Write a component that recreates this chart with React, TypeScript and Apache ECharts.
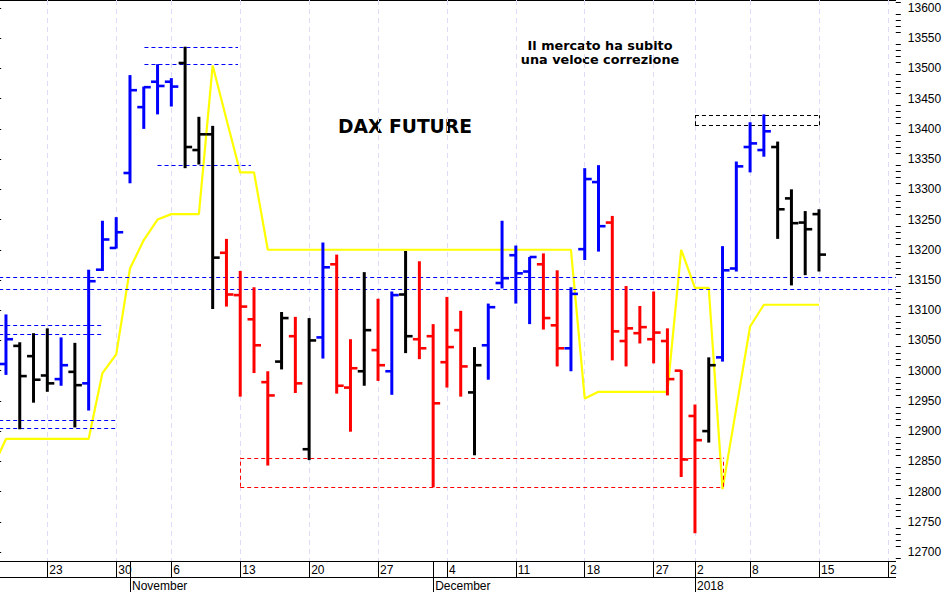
import React, { useEffect, useRef } from "react";
import * as echarts from "echarts";

const dates = [
  "10-17","10-18","10-19","10-20","10-23","10-24","10-25","10-26","10-27","10-30",
  "11-01","11-02","11-03","11-06","11-07","11-08","11-09","11-10","11-13","11-14",
  "11-15","11-16","11-17","11-20","11-21","11-22","11-23","11-24","11-27","11-28",
  "11-29","11-30","12-01","12-04","12-05","12-06","12-07","12-08","12-11","12-12",
  "12-13","12-14","12-15","12-18","12-19","12-20","12-21","12-22","12-27","12-28",
  "12-29","01-02","01-03","01-04","01-05","01-08","01-09","01-10","01-11","01-12",
  "01-15","01-16","01-17","01-18","01-19","01-22",
];
const dayTicks: Record<string, string> = {
  "10-23": "23", "10-30": "30", "11-06": "6", "11-13": "13", "11-20": "20", "11-27": "27", "12-04": "4",
  "12-11": "11", "12-18": "18", "12-27": "27", "01-02": "2", "01-08": "8", "01-15": "15", "01-22": "2",
};
const monthTicks: Record<string, string> = { "11-01": "November", "12-01": "December", "01-02": "2018" };

const opens = [null,
  13011,13041,13024,12992,12986,12998,12979,13167,13203,13327,13436,13478,13478,13509,13365,13391,13195,13125,13085,12981,
  13015,13057,12870,13055,13176,12972,12999,13034,12999,13126,13052,13057,13014,13067,12964,13042,13145,13191,13164,13176,
  13075,13037,13201,13312,13245,13049,13062,13052,13049,13000,12925,12900,13022,13169,13370,13365,13370,13285,13245,13259,
  null,null,null,null,null];
const highs = [null,
  13093,13047,13062,13070,13055,13046,13167,13248,13254,13489,13470,13507,13484,13536,13420,13405,13218,13165,13138,12999,
  13097,13089,13087,13212,13192,13052,13163,13119,13131,13198,13181,13077,13122,13099,13039,13111,13248,13207,13188,13194,
  13166,13138,13335,13340,13256,13140,13107,13131,13070,13001,12944,13022,13206,13346,13411,13424,13379,13300,13264,13267,
  null,null,null,null,null];
const lows = [null,
  12993,12903,12947,12965,12975,12906,12934,13165,13202,13310,13400,13424,13437,13335,13341,13102,13106,12957,12996,12843,
  13002,12963,12852,13020,12962,12899,12975,12983,12960,13029,13019,12807,12972,12957,12860,12985,13136,13111,13077,13068,
  13007,12999,13183,13197,13017,13007,13045,13012,12959,12824,12731,12881,13015,13164,13328,13354,13218,13141,13158,13164,
  null,null,null,null,null];
const closes = [null,
  13052,12991,12985,12979,13009,12976,13148,13217,13229,13464,13469,13471,13470,13370,13391,13187,13126,13106,13042,12959,
  13087,12979,13050,13171,12975,13004,13067,13009,13125,13057,13037,12946,13039,13007,13009,13105,13153,13161,13188,13087,
  13037,13127,13317,13239,13065,13070,13072,13063,12986,12853,12885,13009,13166,13338,13376,13396,13267,13244,13234,13192,
  null,null,null,null,null];
const barKinds = ["",
  "b","k","k","k","b","k","b","b","b","b","b","b","b","k","k","k","r","r","r","r",
  "k","r","k","b","r","r","k","r","b","k","r","r","r","r","k","b","b","b","b","r",
  "r","b","b","b","r","r","r","r","r","r","r","k","b","b","b","b","k","k","k","k",
  "","","","",""];
const trend = [12838,
  12887,12887,12887,12887,12887,12887,12887,12996,13027,13169,13216,13250,13259,13259,13259,13505,13416,13328,13328,13200,
  13200,13200,13200,13200,13200,13200,13200,13200,13200,13200,13200,13200,13200,13200,13200,13200,13200,13200,13200,13200,
  13200,13200,12954,12965,12965,12965,12965,12965,12965,13200,13137,13137,12804,12938,13073,13109,13109,13109,13109,13109,
  null,null,null,null,null];

const majorTicks = [12700,12750,12800,12850,12900,12950,13000,13050,13100,13150,13200,13250,13300,13350,13400,13450,13500,13550,13600];
const minorTicks = [12690,12710,12720,12730,12740,12760,12770,12780,12790,12810,12820,12830,12840,12860,12870,12880,12890,12910,12920,12930,12940,12960,12970,12980,12990,13010,13020,13030,13040,13060,13070,13080,13090,13110,13120,13130,13140,13160,13170,13180,13190,13210,13220,13230,13240,13260,13270,13280,13290,13310,13320,13330,13340,13360,13370,13380,13390,13410,13420,13430,13440,13460,13470,13480,13490,13510,13520,13530,13540,13560,13570,13580,13590,13610];

// [from index, to index, level, colour kind]
const levelLines: [number, number, number, string][] = [
  [0, 66, 13154.4, "b"], [0, 66, 13134.6, "b"],
  [0, 7.97, 13075, "b"], [0, 7.97, 13060, "b"],
  [0, 9, 12918, "b"], [0, 9, 12905, "b"],
  [11.05, 17.84, 13535, "b"], [11.05, 17.84, 13507, "b"], [12, 18.78, 13340, "b"],
  [51, 60, 13422.5, "k"], [51, 60, 13406, "k"],
  [18, 53, 12856, "r"], [18, 53, 12808, "r"],
];
// [index, from level, to level, colour kind]
const levelSides: [number, number, number, string][] = [
  [51, 13406, 13422.5, "k"], [60, 13406, 13422.5, "k"],
  [18, 12808, 12856, "r"], [53, 12808, 12856, "r"],
];

const palette: Record<string, string> = { b: "#0000ff", k: "#000000", r: "#ff0000" };
const AXIS_FONT = "'Liberation Sans', Arial, sans-serif";
const Y_MIN = 12685.07;
const Y_MAX = 13613.24;

export default function App() {
  const ref = useRef<HTMLDivElement>(null);
  useEffect(() => {
    document.body.style.margin = "0";
    const chart = echarts.init(ref.current!, null, { renderer: "svg" });
    const barData = dates.map((_, i) => [i, opens[i], highs[i], lows[i], closes[i], barKinds[i]]);
    const lineRows = levelLines.map((r) => [r[0], r[1], r[2]]);
    const sideRows = levelSides.map((r) => [r[0], r[1], r[2]]);
    const dash = [4, 3];
    chart.setOption({
      animation: false,
      backgroundColor: "#ffffff",
      grid: { left: -14.7, top: 0, width: 909.48, height: 561, containLabel: false, outerBoundsMode: "none" },
      xAxis: [
        {
          type: "category",
          data: dates,
          position: "bottom",
          boundaryGap: true,
          axisLine: { show: true, lineStyle: { color: "#000", width: 1 } },
          axisTick: {
            show: true,
            alignWithLabel: true,
            length: 16,
            lineStyle: { color: "#000", width: 1 },
            interval: (_: number, v: string) => v in dayTicks || v in monthTicks,
          },
          axisLabel: {
            show: true,
            interval: (_: number, v: string) => v in dayTicks,
            formatter: (v: string) => dayTicks[v] ?? "",
            color: "#000",
            fontFamily: AXIS_FONT,
            fontSize: 12,
            align: "left",
            margin: 3,
            padding: [0, 0, 0, 2],
            lineHeight: 12,
          },
          splitLine: {
            show: true,
            alignWithLabel: true,
            interval: (_: number, v: string) => v in dayTicks,
            lineStyle: { color: "#dcdcf8", type: [5, 4], width: 1 },
          },
        },
        {
          type: "category",
          data: dates,
          position: "bottom",
          offset: 16,
          boundaryGap: true,
          axisLine: { show: true, lineStyle: { color: "#000", width: 1 } },
          axisTick: {
            show: true,
            alignWithLabel: true,
            length: 15,
            lineStyle: { color: "#000", width: 1 },
            interval: (_: number, v: string) => v in monthTicks,
          },
          axisLabel: {
            show: true,
            interval: (_: number, v: string) => v in monthTicks,
            formatter: (v: string) => monthTicks[v] ?? "",
            color: "#000",
            fontFamily: AXIS_FONT,
            fontSize: 12,
            align: "left",
            margin: 3,
            padding: [0, 0, 0, 2],
            lineHeight: 12,
          },
          splitLine: { show: false },
        },
        { type: "value", show: false, min: -0.5, max: 65.5, position: "bottom" },
      ],
      yAxis: [
        {
          type: "value",
          position: "right",
          offset: 1,
          min: Y_MIN,
          max: Y_MAX,
          axisLine: { show: true, lineStyle: { color: "#000", width: 1 } },
          axisTick: { show: true, length: 9, customValues: majorTicks, lineStyle: { color: "#000", width: 1 } },
          axisLabel: {
            show: true,
            customValues: majorTicks,
            formatter: (v: number) => String(v),
            color: "#000",
            fontFamily: AXIS_FONT,
            fontSize: 12,
            margin: 12,
          },
          splitLine: { show: false },
        },
      ],
      series: [
        {
          type: "line",
          name: "trend",
          data: trend,
          xAxisIndex: 0,
          yAxisIndex: 0,
          symbol: "none",
          smooth: false,
          z: 2,
          silent: true,
          lineStyle: { color: "#ffff00", width: 2.2 },
        },
        {
          type: "custom",
          name: "minor ticks",
          data: minorTicks.map((v) => [65.5, v]),
          xAxisIndex: 2,
          yAxisIndex: 0,
          encode: { x: 0, y: 1 },
          clip: false,
          z: 3,
          silent: true,
          renderItem: (_p: any, api: any) => {
            const a = api.coord([api.value(0), api.value(1)]);
            return {
              type: "line",
              shape: { x1: a[0] + 1, y1: Math.round(a[1]) + 0.5, x2: a[0] + 6, y2: Math.round(a[1]) + 0.5 },
              style: { stroke: "#000", lineWidth: 1 },
            };
          },
        },
        {
          type: "custom",
          name: "levels",
          data: lineRows,
          xAxisIndex: 2,
          yAxisIndex: 0,
          encode: { x: [0, 1], y: 2 },
          clip: true,
          z: 3,
          silent: true,
          renderItem: (_p: any, api: any) => {
            const a = api.coord([api.value(0), api.value(2)]);
            const b = api.coord([api.value(1), api.value(2)]);
            return {
              type: "line",
              shape: { x1: a[0], y1: Math.round(a[1]) + 0.5, x2: b[0], y2: Math.round(b[1]) + 0.5 },
              style: { stroke: palette[levelLines[_p.dataIndex][3]], lineWidth: 1, lineDash: dash },
            };
          },
        },
        {
          type: "custom",
          name: "sides",
          data: sideRows,
          xAxisIndex: 2,
          yAxisIndex: 0,
          encode: { x: 0, y: [1, 2] },
          clip: true,
          z: 3,
          silent: true,
          renderItem: (_p: any, api: any) => {
            const a = api.coord([api.value(0), api.value(1)]);
            const b = api.coord([api.value(0), api.value(2)]);
            const x = Math.round(a[0]) + 0.5;
            return {
              type: "line",
              shape: { x1: x, y1: a[1], x2: x, y2: b[1] },
              style: { stroke: palette[levelSides[_p.dataIndex][3]], lineWidth: 1, lineDash: dash },
            };
          },
        },
        {
          type: "custom",
          name: "DAX",
          data: barData.filter((r) => r[1] != null),
          xAxisIndex: 0,
          yAxisIndex: 0,
          encode: { x: 0, y: [1, 2, 3, 4] },
          clip: true,
          z: 4,
          silent: true,
          renderItem: (_p: any, api: any) => {
            const idx = api.value(0);
            const color = palette[barData[idx][5] as string];
            const o = api.coord([idx, api.value(1)]);
            const h = api.coord([idx, api.value(2)]);
            const l = api.coord([idx, api.value(3)]);
            const c = api.coord([idx, api.value(4)]);
            const style = { stroke: color, lineWidth: 3 };
            const tick = { stroke: color, lineWidth: 2.6 };
            return {
              type: "group",
              children: [
                { type: "line", shape: { x1: o[0], y1: h[1], x2: o[0], y2: l[1] }, style },
                { type: "line", shape: { x1: o[0] - 6.5, y1: o[1], x2: o[0], y2: o[1] }, style: tick },
                { type: "line", shape: { x1: o[0], y1: c[1], x2: o[0] + 7, y2: c[1] }, style: tick },
              ],
            };
          },
        },
      ],
      graphic: [
        { type: "line", shape: { x1: 0, y1: 0.5, x2: 896, y2: 0.5 }, style: { stroke: "#000", lineWidth: 1 }, silent: true },
        { type: "line", shape: { x1: 893, y1: 561.5, x2: 896, y2: 561.5 }, style: { stroke: "#000", lineWidth: 1 }, silent: true },
        { type: "line", shape: { x1: 893, y1: 577.5, x2: 896, y2: 577.5 }, style: { stroke: "#000", lineWidth: 1 }, silent: true },
        {
          type: "text", x: 405, y: 126,
          style: { text: "DAX FUTURE", fontFamily: "'DejaVu Sans', sans-serif", fontWeight: "bold", fontSize: 18.7, fill: "#000", align: "center", verticalAlign: "middle" },
          silent: true,
        },
        {
          type: "text", x: 600, y: 45,
          style: { text: "Il mercato ha subito", fontFamily: "'DejaVu Sans', sans-serif", fontWeight: "bold", fontSize: 12.8, fill: "#000", align: "center", verticalAlign: "middle" },
          silent: true,
        },
        {
          type: "text", x: 600, y: 59.5,
          style: { text: "una veloce correzione", fontFamily: "'DejaVu Sans', sans-serif", fontWeight: "bold", fontSize: 12.8, fill: "#000", align: "center", verticalAlign: "middle" },
          silent: true,
        },
      ],
    });
    return () => chart.dispose();
  }, []);
  return <div ref={ref} style={{ width: 945, height: 592 }} />;
}
